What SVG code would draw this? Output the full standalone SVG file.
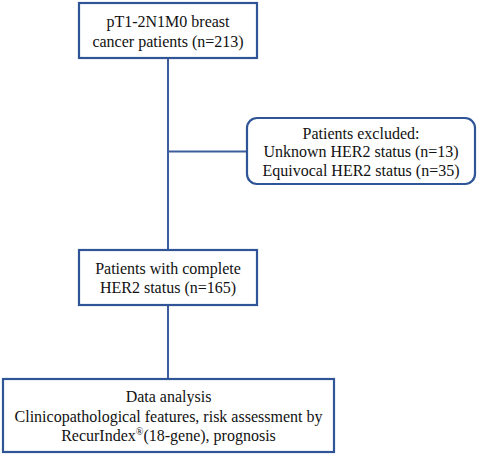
<svg xmlns="http://www.w3.org/2000/svg" width="478" height="454" viewBox="0 0 478 454">
<style>
.box{fill:#fff;stroke:#2f5597;stroke-width:2.2}
.ln{stroke:#3c5e9c;stroke-width:2;fill:none}
text{font-family:"Liberation Serif","Times New Roman",serif;font-size:16px;fill:#111;text-anchor:middle}
</style>
<rect width="478" height="454" fill="#fff"/>
<g id="connectors">
<line class="ln" x1="168" y1="58" x2="168" y2="250"/>
<line class="ln" x1="168" y1="151.5" x2="247" y2="151.5"/>
<line class="ln" x1="168" y1="305" x2="168" y2="379"/>
</g>
<g id="n1">
<rect class="box" x="79" y="3" width="178" height="55"/>
<text x="168" y="27">pT1-2N1M0 breast</text>
<text x="168" y="47">cancer patients (n=213)</text>
</g>
<g id="n2">
<rect class="box" x="247" y="118" width="228" height="66" rx="10"/>
<text x="361" y="139">Patients excluded:</text>
<text x="361" y="157">Unknown HER2 status (n=13)</text>
<text x="361" y="176">Equivocal HER2 status (n=35)</text>
</g>
<g id="n3">
<rect class="box" x="79" y="250" width="178" height="55"/>
<text x="168" y="274">Patients with complete</text>
<text x="168" y="293">HER2 status (n=165)</text>
</g>
<g id="n4">
<rect class="box" x="3" y="379" width="331" height="73"/>
<text x="168.5" y="402">Data analysis</text>
<text x="168.5" y="421.5">Clinicopathological features, risk assessment by</text>
<text x="168.5" y="441">RecurIndex<tspan font-size="10" dy="-6">®</tspan><tspan dy="6">(18-gene), prognosis</tspan></text>
</g>
</svg>
